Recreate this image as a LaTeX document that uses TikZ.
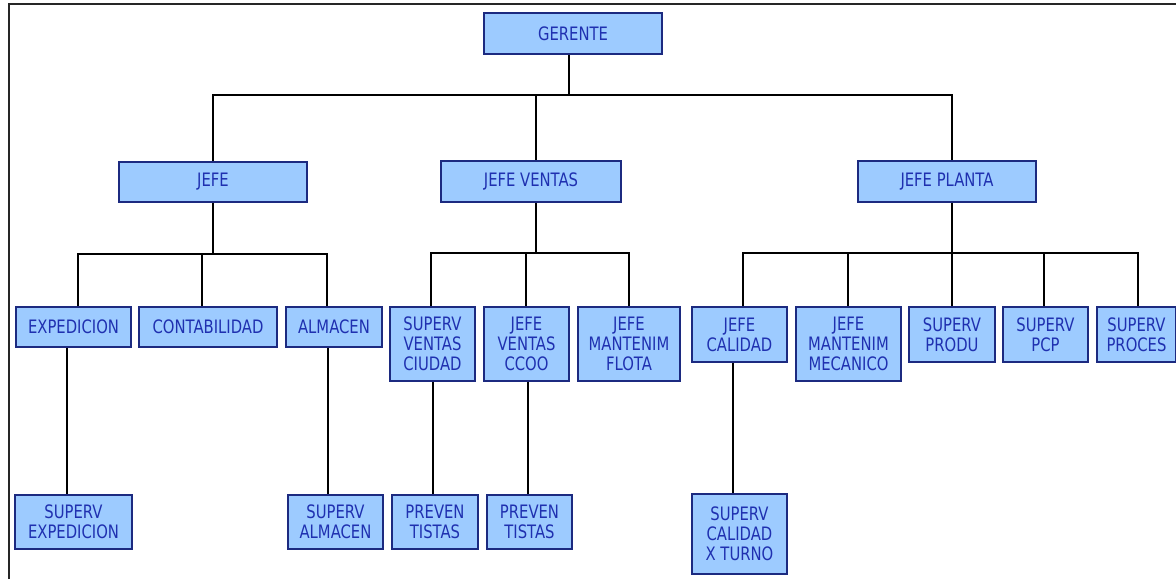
\documentclass[tikz,border=0pt]{standalone}
\usepackage{fontspec}
\setmainfont{DejaVu Sans}[FakeStretch=0.8]
\definecolor{boxfill}{HTML}{9DCBFF}
\definecolor{boxdraw}{HTML}{1C2A80}
\definecolor{boxtext}{HTML}{1F30B0}
\tikzset{
  org/.style={draw=boxdraw, fill=boxfill, line width=1.6pt, text=boxtext,
    align=center, inner sep=0pt, font=\fontsize{18.5}{20}\selectfont},
  conn/.style={draw=black, line width=2pt},
  frame/.style={draw=black!85, line width=2.2pt}
}
\begin{document}
\begin{tikzpicture}[x=1pt,y=-1pt]
\useasboundingbox (0,0) rectangle (1176,579);
\fill[white] (0,0) rectangle (1176,579);
\coordinate (fl) at (9,579);
\coordinate (fc) at (9,4);
\coordinate (fr) at (1176,4);
\draw[frame] (fl) -- (fc) -- (fr);

% level 1
\node[org, minimum width=178, minimum height=41] (gerente) at (573,33.5) {GERENTE};
% level 2
\node[org, minimum width=188, minimum height=40] (jefe) at (213,182) {JEFE};
\node[org, minimum width=180, minimum height=41] (jventas) at (531,181.5) {JEFE VENTAS};
\node[org, minimum width=178, minimum height=41] (jplanta) at (947,181.5) {JEFE PLANTA};
% level 3
\node[org, minimum width=115, minimum height=40] (exped) at (73.5,327) {EXPEDICION};
\node[org, minimum width=138, minimum height=40] (conta) at (208,327) {CONTABILIDAD};
\node[org, minimum width=96, minimum height=40] (almacen) at (334,327) {ALMACEN};
\node[org, minimum width=85, minimum height=74] (svc) at (432.5,344) {SUPERV\\VENTAS\\CIUDAD};
\node[org, minimum width=85, minimum height=74] (jvc) at (526.5,344) {JEFE\\VENTAS\\CCOO};
\node[org, minimum width=102, minimum height=74] (jmf) at (629,344) {JEFE\\MANTENIM\\FLOTA};
\node[org, minimum width=95, minimum height=55] (jcal) at (739.5,334.5) {JEFE\\CALIDAD};
\node[org, minimum width=105, minimum height=74] (jmm) at (848.5,344) {JEFE\\MANTENIM\\MECANICO};
\node[org, minimum width=86, minimum height=55] (sprodu) at (952,334.5) {SUPERV\\PRODU};
\node[org, minimum width=85, minimum height=55] (spcp) at (1045.5,334.5) {SUPERV\\PCP};
\node[org, minimum width=79, minimum height=55] (sproces) at (1136.5,334.5) {SUPERV\\PROCES};
% level 4
\node[org, minimum width=117, minimum height=54] (sexp) at (73.5,522) {SUPERV\\EXPEDICION};
\node[org, minimum width=95, minimum height=54] (salm) at (335.5,522) {SUPERV\\ALMACEN};
\node[org, minimum width=86, minimum height=54] (prev1) at (435,522) {PREVEN\\TISTAS};
\node[org, minimum width=85, minimum height=54] (prev2) at (529.5,522) {PREVEN\\TISTAS};
\node[org, minimum width=95, minimum height=80] (scal) at (739.5,534) {SUPERV\\CALIDAD\\X TURNO};

% connectors level 1 -> 2
\coordinate (b0) at ([xshift=-4]gerente.south |- 0,95);
\draw[conn] ([xshift=-4]gerente.south) -- (b0);
\draw[conn] (jefe.north) -- (jefe.north |- b0) -- ([xshift=5]jplanta.north |- b0) -- ([xshift=5]jplanta.north);
\draw[conn] ([xshift=5]jventas.north |- b0) -- ([xshift=5]jventas.north);

% jefe -> level 3
\coordinate (b1) at (jefe.south |- 0,254);
\draw[conn] (jefe.south) -- (b1);
\draw[conn] ([xshift=4.5]exped.north) -- ([xshift=4.5]exped.north |- b1) -- ([xshift=-7]almacen.north |- b1) -- ([xshift=-7]almacen.north);
\draw[conn] ([xshift=-6]conta.north |- b1) -- ([xshift=-6]conta.north);

% jventas -> level 3
\coordinate (b2) at ([xshift=5]jventas.south |- 0,253);
\draw[conn] ([xshift=5]jventas.south) -- (b2);
\draw[conn] ([xshift=-1.5]svc.north) -- ([xshift=-1.5]svc.north |- b2) -- (jmf.north |- b2) -- (jmf.north);
\draw[conn] ([xshift=-0.5]jvc.north |- b2) -- ([xshift=-0.5]jvc.north);

% jplanta -> level 3
\coordinate (b3) at ([xshift=5]jplanta.south |- 0,253);
\draw[conn] ([xshift=5]jplanta.south) -- (b3);
\draw[conn] ([xshift=3.5]jcal.north) -- ([xshift=3.5]jcal.north |- b3) -- ([xshift=1.5]sproces.north |- b3) -- ([xshift=1.5]sproces.north);
\draw[conn] ([xshift=-0.5]jmm.north |- b3) -- ([xshift=-0.5]jmm.north);
\draw[conn] (sprodu.north |- b3) -- (sprodu.north);
\draw[conn] ([xshift=-1.5]spcp.north |- b3) -- ([xshift=-1.5]spcp.north);

% level 3 -> level 4
\draw[conn] ([xshift=-6.5]exped.south) -- ([xshift=-6.5]exped.south |- sexp.north);
\draw[conn] ([xshift=-6]almacen.south) -- ([xshift=-6]almacen.south |- salm.north);
\draw[conn] ([xshift=0.5]svc.south) -- ([xshift=0.5]svc.south |- prev1.north);
\draw[conn] ([xshift=1.5]jvc.south) -- ([xshift=1.5]jvc.south |- prev2.north);
\draw[conn] ([xshift=-6.5]jcal.south) -- ([xshift=-6.5]jcal.south |- scal.north);
\end{tikzpicture}
\end{document}
